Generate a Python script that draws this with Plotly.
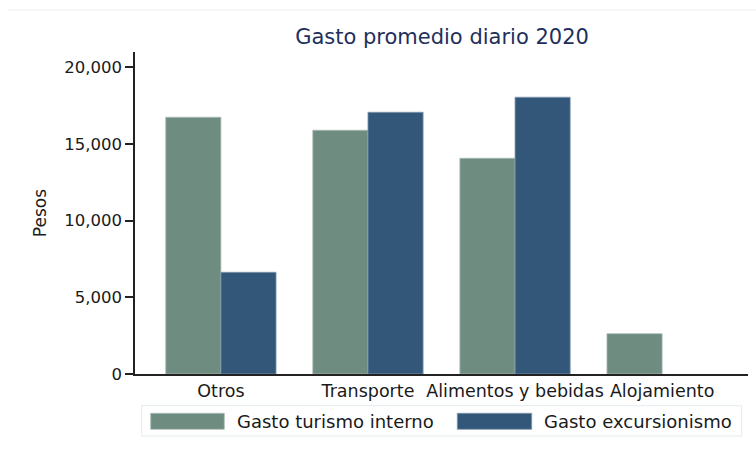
import plotly.graph_objects as go

# Gasto promedio diario por rubro, 2020 (pesos)
categorias = ["Otros", "Transporte", "Alimentos y bebidas", "Alojamiento"]
gasto_turismo_interno = [16745, 15897, 14070, 2629]
gasto_excursionismo = [6634, 17071, 18050, None]
series = ["Gasto turismo interno", "Gasto excursionismo"]
y_ticks = [0, 5000, 10000, 15000, 20000]

VERDE = "#6e8c80"
AZUL = "#335779"
FONT = "DejaVu Sans"
W, H = 756, 453
ML, MR, MT, MB = 135, 8, 52, 79
PW, PH = W - ML - MR, H - MT - MB


def px(x):
    return (x - ML) / PW


def py(y):
    return (H - MB - y) / PH


fig = go.Figure()
fig.add_trace(go.Bar(x=categorias, y=gasto_turismo_interno, name=series[0],
                     marker=dict(color=VERDE, line=dict(color="#a9bcb4", width=0.8)),
                     showlegend=False))
fig.add_trace(go.Bar(x=categorias, y=gasto_excursionismo, name=series[1],
                     marker=dict(color=AZUL, line=dict(color="#7f98ae", width=0.8)),
                     showlegend=False))

# legend drawn as a framed box with wide swatches
shapes = [
    dict(type="line", xref="paper", yref="paper", x0=px(8), x1=px(756), y0=py(10), y1=py(10),
         line=dict(color="#ececec", width=1)),
    dict(type="rect", xref="paper", yref="paper", x0=px(141.7), x1=px(741.7),
         y0=py(436), y1=py(405.7), line=dict(color="#e4ebee", width=1), fillcolor="white"),
    dict(type="rect", xref="paper", yref="paper", x0=px(150.7), x1=px(224.3),
         y0=py(429.3), y1=py(413.3), line=dict(color="#a9bcb4", width=0.8), fillcolor=VERDE),
    dict(type="rect", xref="paper", yref="paper", x0=px(457.3), x1=px(531.7),
         y0=py(429.3), y1=py(413.3), line=dict(color="#7f98ae", width=0.8), fillcolor=AZUL),
]
annotations = [
    dict(text=series[0], xref="paper", yref="paper", x=px(235), y=py(421.5),
         xanchor="left", yanchor="middle", showarrow=False,
         font=dict(family=FONT, size=18, color="#1a1a1a")),
    dict(text=series[1], xref="paper", yref="paper", x=px(541.5), y=py(421.5),
         xanchor="left", yanchor="middle", showarrow=False,
         font=dict(family=FONT, size=18, color="#1a1a1a")),
]

fig.update_layout(
    width=W, height=H, autosize=False,
    margin=dict(l=ML, r=MR, t=MT, b=MB, pad=0),
    paper_bgcolor="white", plot_bgcolor="white",
    barmode="group", bargap=0.25, bargroupgap=0,
    title=dict(text="Gasto promedio diario 2020", xref="paper", x=px(442), xanchor="center",
               y=1 - 37 / H, yanchor="middle", yref="container",
               font=dict(family=FONT, size=21, color="#1f2f5c")),
    shapes=shapes, annotations=annotations,
)
fig.update_xaxes(
    type="category", range=[-0.584, 3.584], showgrid=False, zeroline=False,
    showline=True, linecolor="#222222", linewidth=1.5, ticks="", tickangle=0,
    tickfont=dict(family=FONT, size=17.5, color="#1a1a1a"), automargin=False,
)
fig.update_yaxes(
    range=[0, 21000], tickvals=y_ticks, tickformat=",", showgrid=False, zeroline=False,
    showline=True, linecolor="#222222", linewidth=1.5, ticks="outside", ticklen=8,
    tickwidth=1.5, tickcolor="#222222",
    tickfont=dict(family=FONT, size=16.5, color="#1a1a1a"),
    title=dict(text="Pesos", font=dict(family=FONT, size=17, color="#1a1a1a"), standoff=13),
    automargin=False,
)

fig.write_html("out.html")
